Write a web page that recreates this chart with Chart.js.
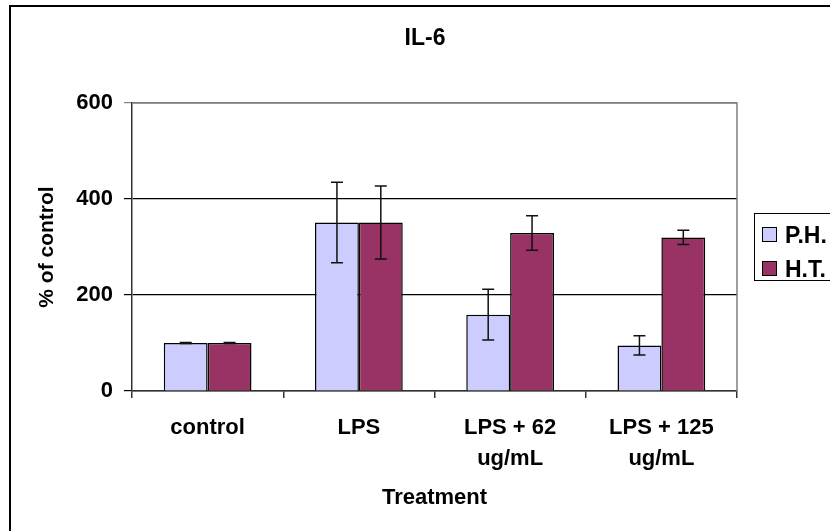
<!DOCTYPE html>
<html>
<head>
<meta charset="utf-8">
<script src="https://cdn.jsdelivr.net/npm/chart.js@4.4.1/dist/chart.umd.min.js"></script>
<style>
  html, body { margin: 0; padding: 0; background: #fff; overflow: hidden; }
  #wrap { position: relative; width: 830px; height: 531px; overflow: hidden; }
  #frame { position: absolute; left: 9px; top: 5px; width: 900px; height: 600px; border: 2px solid #000; }
  #myChart { position: absolute; left: 0; top: 0; }
  #legendBox { position: absolute; left: 754px; top: 213px; width: 110px; height: 66px; border: 1px solid #000; background: #fff;
    font-family: "Liberation Sans", Arial, sans-serif; font-weight: bold; font-size: 23px; color: #000; }
  .legendRow { position: absolute; left: 7px; height: 16px; line-height: 16px; white-space: nowrap; }
  .legendRow span.sw { display: inline-block; width: 13px; height: 13px; border: 1px solid #000; vertical-align: middle; margin-right: 8px; }
  .legendRow span.tx { vertical-align: middle; }
</style>
</head>
<body>
<div id="wrap">
  <div id="frame"></div>
  <canvas id="myChart" width="830" height="531"></canvas>
  <div id="legendBox"></div>
</div>
<script>
"use strict";

let categories = [["control"], ["LPS"], ["LPS + 62", "ug/mL"], ["LPS + 125", "ug/mL"]];
let seriesNames = ["P.H.", "H.T."];
let phValues = [100, 351, 159, 95];
let phErrors = [1, 84, 53, 20];
let htValues = [100, 351, 329, 320];
let htErrors = [1, 76, 36, 15];
let yTicks = [0, 200, 400, 600];

let seriesColors = ["#ccccff", "#993366"];
let errorArrays = [phErrors, htErrors];

// legend as plain html, sits on top of the frame like in excel
let legendBoxEl = document.getElementById("legendBox");
for (let i = 0; i < seriesNames.length; i++) {
  let rowEl = document.createElement("div");
  rowEl.className = "legendRow";
  rowEl.style.top = (11 + i * 34) + "px";
  rowEl.innerHTML = '<span class="sw" style="background:' + seriesColors[i] + '"></span><span class="tx">' + seriesNames[i] + "</span>";
  legendBoxEl.appendChild(rowEl);
}

let errorBarsPlugin = {
  id: "errorBars",
  beforeDatasetsDraw(chart) {
    // gray plot area border on top and right
    let ctx = chart.ctx;
    let a = chart.chartArea;
    ctx.save();
    ctx.strokeStyle = "#808080";
    ctx.lineWidth = 1.5;
    ctx.beginPath();
    ctx.moveTo(a.left, a.top);
    ctx.lineTo(a.right, a.top);
    ctx.lineTo(a.right, a.bottom);
    ctx.stroke();
    ctx.restore();
  },
  afterDatasetsDraw(chart) {
    let ctx = chart.ctx;
    let yScale = chart.scales.y;
    ctx.save();
    ctx.strokeStyle = "#111";
    ctx.lineWidth = 1.5;
    for (let d = 0; d < chart.data.datasets.length; d++) {
      let meta = chart.getDatasetMeta(d);
      let values = chart.data.datasets[d].data;
      for (let i = 0; i < meta.data.length; i++) {
        let x = meta.data[i].x;
        let yTop = yScale.getPixelForValue(values[i] + errorArrays[d][i]);
        let yBot = yScale.getPixelForValue(values[i] - errorArrays[d][i]);
        ctx.beginPath();
        ctx.moveTo(x, yTop);
        ctx.lineTo(x, yBot);
        ctx.moveTo(x - 6, yTop);
        ctx.lineTo(x + 6, yTop);
        ctx.moveTo(x - 6, yBot);
        ctx.lineTo(x + 6, yBot);
        ctx.stroke();
      }
    }
    ctx.restore();
  },
  afterDraw(chart) {
    let ctx = chart.ctx;
    ctx.save();
    ctx.fillStyle = "#000";
    ctx.font = "bold 23px 'Liberation Sans', Arial, sans-serif";
    ctx.textAlign = "center";
    ctx.textBaseline = "middle";
    ctx.fillText("IL-6", 425, 39);
    ctx.restore();
  }
};

let ctx = document.getElementById("myChart").getContext("2d");
let myChart = new Chart(ctx, {
  type: "bar",
  data: {
    labels: categories,
    datasets: [
      {
        label: seriesNames[0],
        data: phValues,
        backgroundColor: seriesColors[0],
        borderColor: "#000",
        borderWidth: 1.5,
      },
      {
        label: seriesNames[1],
        data: htValues,
        backgroundColor: seriesColors[1],
        borderColor: "#000",
        borderWidth: 1.5,
      },
    ],
  },
  options: {
    responsive: false,
    animation: false,
    layout: { padding: { top: 103, right: 93, bottom: 0, left: 0 } },
    datasets: { bar: { categoryPercentage: 0.58, barPercentage: 1.0 } },
    plugins: {
      legend: { display: false },
      tooltip: { enabled: false },
    },
    scales: {
      x: {
        afterFit(scale) { scale.height = 140; },
        grid: { drawOnChartArea: false, drawTicks: true, tickLength: 7, color: "#333", lineWidth: 1.5 },
        border: { color: "#333", width: 1.5 },
        ticks: {
          color: "#000",
          padding: 15,
          maxRotation: 0,
          font: { family: "'Liberation Sans', Arial, sans-serif", size: 22, weight: "bold", lineHeight: 1.4 },
        },
        title: {
          display: true,
          text: "Treatment",
          color: "#000",
          padding: { top: 0, bottom: 20 },
          font: { family: "'Liberation Sans', Arial, sans-serif", size: 22, weight: "bold" },
        },
      },
      y: {
        min: 0,
        max: 600,
        afterFit(scale) { scale.width = 132; },
        afterBuildTicks(scale) { scale.ticks = yTicks.map(v => ({ value: v })); },
        grid: {
          color: c => (c.tick && c.tick.value === 600 ? "#808080" : "#000"),
          lineWidth: 1.2,
          tickLength: 8,
        },
        border: { color: "#333", width: 1.5 },
        ticks: {
          color: "#000",
          padding: 11,
          font: { family: "'Liberation Sans', Arial, sans-serif", size: 22, weight: "bold" },
        },
        title: {
          display: true,
          text: "% of control",
          color: "#000",
          padding: { top: 35, bottom: 0 },
          font: { family: "'Liberation Sans', Arial, sans-serif", size: 21, weight: "bold" },
        },
      },
    },
  },
  plugins: [errorBarsPlugin],
});
</script>
</body>
</html>
